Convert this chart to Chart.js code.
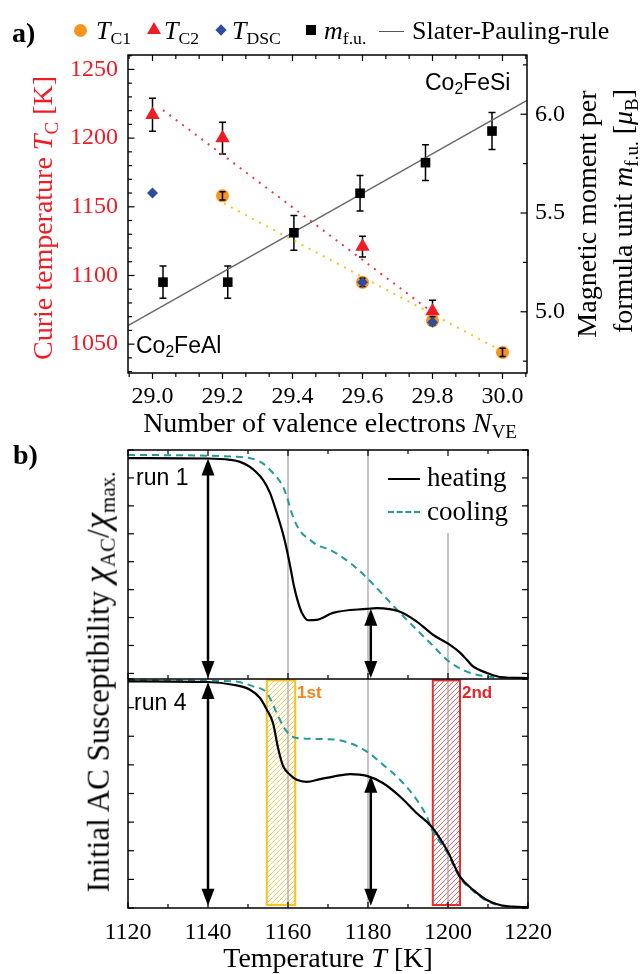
<!DOCTYPE html>
<html><head><meta charset="utf-8">
<script src="https://cdn.jsdelivr.net/npm/chart.js@4.4.1/dist/chart.umd.min.js"></script>
<style>
body{margin:0;background:#fff;}
#wrap{position:relative;width:640px;height:974px;overflow:hidden;font-family:"Liberation Serif","Times New Roman",serif;color:#000;background:#fff;}
canvas{position:absolute;left:0;}
.t{position:absolute;white-space:nowrap;line-height:1;}
.rot{transform:translate(-50%,-50%) rotate(-90deg);}
.cen{transform:translate(-50%,-50%);}
.lc{transform:translate(0,-50%);}
sub{font-size:0.68em;vertical-align:-0.3em;line-height:0;}
.sans{font-family:"Liberation Sans",Arial,sans-serif;}
.mk{position:absolute;}
</style></head><body>
<div id="wrap">
<canvas id="ca" width="640" height="440" style="top:0"></canvas>
<canvas id="cb" width="640" height="534" style="top:440px"></canvas>

<!-- panel a legend -->
<div class="t lc" style="left:12px;top:33px;font-size:28px;font-weight:bold;">a)</div>
<div class="mk" style="left:74px;top:24px;width:13px;height:13px;border-radius:50%;background:#f7941d;"></div>
<div class="t lc" style="left:96px;top:31px;font-size:26px;"><i>T</i><sub>C1</sub></div>
<div class="mk" style="left:147px;top:22px;width:0;height:0;border-left:7px solid transparent;border-right:7px solid transparent;border-bottom:12px solid #ee1c25;"></div>
<div class="t lc" style="left:164px;top:31px;font-size:26px;"><i>T</i><sub>C2</sub></div>
<div class="mk" style="left:217px;top:26px;width:8px;height:8px;background:#2f4d9e;transform:rotate(45deg);"></div>
<div class="t lc" style="left:232px;top:31px;font-size:26px;"><i>T</i><sub>DSC</sub></div>
<div class="mk" style="left:306px;top:25px;width:10px;height:10px;background:#000;"></div>
<div class="t lc" style="left:324px;top:31px;font-size:26px;"><i>m</i><sub>f.u.</sub></div>
<div class="mk" style="left:379px;top:31px;width:25px;height:0;border-top:1.5px solid #555;"></div>
<div class="t lc" style="left:412px;top:31px;font-size:26px;">Slater-Pauling-rule</div>

<!-- panel a titles -->
<div class="t rot" style="left:43px;top:218px;font-size:28px;color:#ee1c25;">Curie temperature <i>T</i><sub>C</sub> [K]</div>
<div class="t rot" style="left:587px;top:214px;font-size:28px;">Magnetic moment per</div>
<div class="t rot" style="left:623px;top:211px;font-size:28px;">formula unit <i>m</i><sub>f.u.</sub> [<i>μ</i><sub>B</sub>]</div>
<div class="t cen" style="left:330px;top:423px;font-size:28px;">Number of valence electrons <i>N</i><sub>VE</sub></div>
<div class="t lc sans" style="left:425px;top:82px;font-size:23px;">Co<sub>2</sub>FeSi</div>
<div class="t lc sans" style="left:136px;top:345px;font-size:23px;">Co<sub>2</sub>FeAl</div>

<!-- panel b texts -->
<div class="t lc" style="left:13px;top:455px;font-size:28px;font-weight:bold;">b)</div>
<div class="t lc sans" style="left:136px;top:477px;font-size:23px;">run 1</div>
<div class="t lc sans" style="left:134px;top:702px;font-size:23px;">run 4</div>
<div class="mk" style="left:388px;top:478px;width:32px;height:0;border-top:2px solid #000;"></div>
<div class="t lc" style="left:427px;top:477px;font-size:27px;">heating</div>
<div class="mk" style="left:388px;top:511px;width:32px;height:0;border-top:2px dashed #26999b;"></div>
<div class="t lc" style="left:427px;top:511px;font-size:27px;">cooling</div>
<div class="t lc sans" style="left:297px;top:692px;font-size:17px;font-weight:bold;color:#f5821f;">1st</div>
<div class="t lc sans" style="left:462px;top:692px;font-size:17px;font-weight:bold;color:#e8262a;">2nd</div>
<div class="t rot" style="left:97px;top:682px;font-size:31px;">Initial AC Susceptibility <i style="font-size:1.18em">χ</i><sub>AC</sub>/<i style="font-size:1.18em">χ</i><sub>max.</sub></div>
<div class="t cen" style="left:328px;top:958px;font-size:28px;">Temperature <i>T</i> [K]</div>
</div>

<script>
// ---------- Panel a data ----------
const nveTicks = [29.0, 29.2, 29.4, 29.6, 29.8, 30.0];
const tcTicks = [1050, 1100, 1150, 1200, 1250];
const momTicks = [5.0, 5.5, 6.0];

const tc1X = [29.2, 29.6, 29.8, 30.0];
const tc1Y = [1158, 1095, 1067, 1044];
const tc1Err = [3, 3, 3, 3];

const tc2X = [29.0, 29.2, 29.6, 29.8];
const tc2Y = [1217, 1200, 1121, 1074];
const tc2Err = [12, 11.5, 7.5, 8];

const tdscX = [29.0, 29.6, 29.8];
const tdscY = [1160, 1095, 1066];

const mfuX = [29.03, 29.215, 29.404, 29.593, 29.78, 29.97];
const mfuY = [5.15, 5.15, 5.40, 5.60, 5.755, 5.915];
const mfuErr = [0.082, 0.082, 0.088, 0.09, 0.09, 0.094];

const slaterX = [28.93, 30.07];
const slaterY = [4.93, 6.07];

const fitC2X = [29.03, 29.79];
const fitC2Y = [1220.4, 1075];
const fitC1X = [29.204, 29.983];
const fitC1Y = [1152.5, 1047];

// ---------- Panel b data ----------
const tempTicks = [1120, 1140, 1160, 1180, 1200, 1220];

const run1HeatT = [1120,1140,1145.5,1148,1150.5,1153.75,1155.5,1157.2,1158.75,1159.75,1160.7,1161.5,1162.5,1163.5,1165,1167.2,1171.25,1179.7,1182.2,1188,1192.2,1196.25,1200.5,1203,1204.7,1206.25,1209.7,1213,1220];
const run1HeatV = [0.964,0.962,0.956,0.947,0.924,0.866,0.808,0.718,0.625,0.550,0.465,0.390,0.320,0.270,0.238,0.240,0.271,0.289,0.292,0.276,0.232,0.173,0.128,0.093,0.061,0.031,0.002,-0.016,-0.021];

const run1CoolT = [1120,1146.25,1153,1156.25,1158.75,1159.7,1161.25,1163,1165.5,1167.2,1170.5,1175.5,1179.7,1183.75,1188,1192.2,1196.25,1199.7,1204.7,1210.5,1220];
const run1CoolV = [0.978,0.970,0.948,0.897,0.836,0.791,0.702,0.638,0.598,0.575,0.553,0.495,0.428,0.352,0.271,0.195,0.124,0.061,0.008,-0.015,-0.021];

const run4HeatT = [1120,1139.75,1146.25,1150.5,1153,1154.7,1156.25,1157.5,1158.75,1160.5,1162.2,1164.7,1168,1171.3,1175.5,1179.7,1183.8,1188,1192.2,1195.9,1199.7,1203,1206.3,1209.7,1213,1216.3,1220];
const run4HeatV = [0.990,0.987,0.975,0.953,0.917,0.866,0.808,0.700,0.621,0.582,0.560,0.551,0.563,0.574,0.585,0.577,0.545,0.487,0.414,0.355,0.254,0.137,0.079,0.035,0.013,0.006,0.004];

const run4CoolT = [1120,1146.25,1151.25,1154.7,1157.2,1158.8,1160.5,1162.2,1170.5,1175.5,1179.7,1183.8,1188,1192.2,1194.7,1195.9,1199.7,1203,1206.3,1209.7,1213,1220];
const run4CoolV = [0.994,0.990,0.968,0.939,0.851,0.793,0.756,0.742,0.737,0.720,0.683,0.625,0.560,0.472,0.399,0.345,0.245,0.131,0.074,0.031,0.011,0.002];

const guideX = [1160, 1180, 1200];
const guideTopFrom = [1.0, 1.0, 0.629];

const arrowX = [1140, 1180.7];
const arrowRun1Top = [0.962, 0.289];
const arrowRun1Bottom = -0.02;
const arrowRun4Top = [0.987, 0.577];
const arrowRun4Bottom = 0.01;

const boxNames = ['1st', '2nd'];
const boxFrom = [1154.7, 1196.2];
const boxTo = [1161.8, 1203.0];
const boxTop = 0.994, boxBottom = 0.013;
const boxStroke = ['#f9c21d', '#ea2b2b'];
const boxHatch = ['#f6d25e', '#ef6464'];

// ---------- helpers ----------
const SERIF = '"Liberation Serif", "Times New Roman", serif';
Chart.defaults.font.family = SERIF;
const pts = (xs, ys) => xs.map((x, i) => ({x: x, y: ys[i]}));
const setTicks = arr => (s => { s.ticks = arr.map(v => ({value: v})); });

function errBars(ctx, xs, ys, errs, xs_, ys_, cap) {
  ctx.save();
  ctx.strokeStyle = '#000'; ctx.lineWidth = 1.5;
  xs.forEach((x, i) => {
    const px = xs_.getPixelForValue(x);
    const a = ys_.getPixelForValue(ys[i] + errs[i]);
    const b = ys_.getPixelForValue(ys[i] - errs[i]);
    ctx.beginPath();
    ctx.moveTo(px, a); ctx.lineTo(px, b);
    ctx.moveTo(px - cap, a); ctx.lineTo(px + cap, a);
    ctx.moveTo(px - cap, b); ctx.lineTo(px + cap, b);
    ctx.stroke();
  });
  ctx.restore();
}

function line(ctx, x1, y1, x2, y2) { ctx.beginPath(); ctx.moveTo(x1, y1); ctx.lineTo(x2, y2); ctx.stroke(); }

// ---------- Chart A ----------
const plugA = {
  id: 'plugA',
  beforeDatasetsDraw(chart) {
    const {ctx, scales} = chart;
    errBars(ctx, mfuX, mfuY, mfuErr, scales.x, scales.y2, 3.5);
    errBars(ctx, tc2X, tc2Y, tc2Err, scales.x, scales.y, 3.5);
  },
  afterDatasetDraw(chart, args) {
    if (args.index === 2) {
      const {ctx, scales} = chart;
      errBars(ctx, tc1X, tc1Y, tc1Err, scales.x, scales.y, 3);
    }
  },
  afterDraw(chart) {
    const {ctx, chartArea: a, scales} = chart;
    ctx.save();
    ctx.strokeStyle = '#000'; ctx.lineWidth = 1.5;
    ctx.strokeRect(a.left, a.top, a.right - a.left, a.bottom - a.top);
    ctx.lineWidth = 1.2;
    for (let i = -1; i <= 16; i++) {
      const v = 29 + i * 0.2 / 3;
      if (v < scales.x.min || v > scales.x.max) continue;
      const px = scales.x.getPixelForValue(v);
      const L = (i % 3 === 0) ? 6 : 4;
      line(ctx, px, a.bottom, px, a.bottom + L);
      line(ctx, px, a.top, px, a.top + L);
    }
    for (let v = 1030; v <= 1260; v += 10) {
      const py = scales.y.getPixelForValue(v);
      const L = (v % 50 === 0) ? 6.5 : 4;
      line(ctx, a.left, py, a.left + L, py);
    }
    for (let k = 0; k <= 6; k++) {
      const v = 4.75 + k * 0.25;
      const py = scales.y2.getPixelForValue(v);
      const L = (k % 2 === 1) ? 6.5 : 4;
      line(ctx, a.right, py, a.right - L, py);
    }
    ctx.restore();
  }
};

new Chart(document.getElementById('ca'), {
  type: 'scatter',
  data: { datasets: [
    {data: pts(tdscX, tdscY), yAxisID: 'y', pointStyle: 'rectRot', pointRadius: 5.5, backgroundColor: '#2f4d9e', borderColor: '#2f4d9e', borderWidth: 0},
    {data: pts(tc2X, tc2Y), yAxisID: 'y', pointStyle: 'triangle', pointRadius: 8.3, backgroundColor: '#ee1c25', borderColor: '#ee1c25', borderWidth: 0},
    {data: pts(tc1X, tc1Y), yAxisID: 'y', pointStyle: 'circle', pointRadius: 6.5, backgroundColor: '#f7941d', borderColor: '#f7941d', borderWidth: 0},
    {data: pts(mfuX, mfuY), yAxisID: 'y2', pointStyle: 'rect', pointRadius: 6.8, backgroundColor: '#000', borderColor: '#000', borderWidth: 0},
    {data: pts(slaterX, slaterY), yAxisID: 'y2', showLine: true, pointRadius: 0, borderColor: '#6a6a6a', borderWidth: 1.3},
    {data: pts(fitC2X, fitC2Y), yAxisID: 'y', showLine: true, pointRadius: 0, borderColor: '#ee3b3b', borderWidth: 2, borderDash: [2, 6]},
    {data: pts(fitC1X, fitC1Y), yAxisID: 'y', showLine: true, pointRadius: 0, borderColor: '#f7c21b', borderWidth: 2, borderDash: [2, 6]}
  ]},
  options: {
    responsive: false, animation: false, devicePixelRatio: 1,
    layout: {padding: {top: 55, left: 0, right: 0, bottom: 0}},
    plugins: {legend: {display: false}, tooltip: {enabled: false}},
    scales: {
      x: {type: 'linear', min: 28.93, max: 30.07, afterBuildTicks: setTicks(nveTicks),
          afterFit: s => { s.height = 67; },
          ticks: {color: '#000', font: {size: 24}, padding: 9, callback: v => v.toFixed(1), maxRotation: 0},
          grid: {display: false, drawTicks: false}, border: {display: false}},
      y: {type: 'linear', position: 'left', min: 1029, max: 1260.5, afterBuildTicks: setTicks(tcTicks),
          afterFit: s => { s.width = 128; },
          ticks: {color: '#ee1c25', font: {size: 24}, padding: 10, callback: v => String(Math.round(v))},
          grid: {display: false, drawTicks: false}, border: {display: false}},
      y2: {type: 'linear', position: 'right', min: 4.69, max: 6.30, afterBuildTicks: setTicks(momTicks),
          afterFit: s => { s.width = 113; },
          ticks: {color: '#000', font: {size: 24}, padding: 8, callback: v => v.toFixed(1)},
          grid: {display: false, drawTicks: false}, border: {display: false}}
    }
  },
  plugins: [plugA]
});

// ---------- Chart B ----------
function hatch(color) {
  const c = document.createElement('canvas');
  const s = 5; c.width = s; c.height = s;
  const g = c.getContext('2d');
  g.strokeStyle = color; g.lineWidth = 1;
  g.beginPath();
  g.moveTo(0, s); g.lineTo(s, 0);
  g.moveTo(-1, 1); g.lineTo(1, -1);
  g.moveTo(s - 1, s + 1); g.lineTo(s + 1, s - 1);
  g.stroke();
  return c;
}

function arrow(ctx, x, y1, y2) {
  const H = 17, W = 6.5;
  ctx.beginPath(); ctx.moveTo(x, y1 + H - 2); ctx.lineTo(x, y2 - H + 2); ctx.stroke();
  ctx.beginPath(); ctx.moveTo(x, y1); ctx.lineTo(x - W, y1 + H); ctx.lineTo(x + W, y1 + H); ctx.closePath(); ctx.fill();
  ctx.beginPath(); ctx.moveTo(x, y2); ctx.lineTo(x - W, y2 - H); ctx.lineTo(x + W, y2 - H); ctx.closePath(); ctx.fill();
}

const plugB = {
  id: 'plugB',
  beforeDatasetsDraw(chart) {
    const {ctx, chartArea: a, scales: {x, yT, yB}} = chart;
    ctx.save();
    boxFrom.forEach((f, i) => {
      const x1 = x.getPixelForValue(f), x2 = x.getPixelForValue(boxTo[i]);
      const y1 = yB.getPixelForValue(boxTop), y2 = yB.getPixelForValue(boxBottom);
      ctx.fillStyle = ctx.createPattern(hatch(boxHatch[i]), 'repeat');
      ctx.fillRect(x1, y1, x2 - x1, y2 - y1);
    });
    ctx.strokeStyle = '#a0a0a0'; ctx.lineWidth = 1.2;
    guideX.forEach((g, i) => {
      const px = x.getPixelForValue(g);
      line(ctx, px, yT.getPixelForValue(guideTopFrom[i]), px, yT.getPixelForValue(-0.025));
      line(ctx, px, yB.getPixelForValue(1), px, yB.getPixelForValue(0));
    });
    boxFrom.forEach((f, i) => {
      const x1 = x.getPixelForValue(f), x2 = x.getPixelForValue(boxTo[i]);
      const y1 = yB.getPixelForValue(boxTop), y2 = yB.getPixelForValue(boxBottom);
      ctx.strokeStyle = boxStroke[i]; ctx.lineWidth = 2;
      ctx.strokeRect(x1, y1, x2 - x1, y2 - y1);
    });
    ctx.restore();
  },
  afterDatasetsDraw(chart) {
    const {ctx, chartArea: a, scales: {x, yT, yB}} = chart;
    ctx.save();
    ctx.strokeStyle = '#000'; ctx.fillStyle = '#000'; ctx.lineWidth = 2.5;
    arrowX.forEach((ax, i) => {
      const px = x.getPixelForValue(ax);
      arrow(ctx, px, yT.getPixelForValue(arrowRun1Top[i]), yT.getPixelForValue(arrowRun1Bottom));
      arrow(ctx, px, yB.getPixelForValue(arrowRun4Top[i]), yB.getPixelForValue(arrowRun4Bottom));
    });
    ctx.lineWidth = 1.5;
    ctx.strokeRect(a.left, a.top, a.right - a.left, a.bottom - a.top);
    const mid = yT.getPixelForValue(-0.025);
    line(ctx, a.left, mid, a.right, mid);
    ctx.lineWidth = 1.2;
    for (let v = 1120; v <= 1220; v += 10) {
      const px = x.getPixelForValue(v);
      const L = (v % 20 === 0) ? 6 : 4;
      line(ctx, px, a.top, px, a.top + L);
      line(ctx, px, mid, px, mid - L);
      line(ctx, px, a.bottom, px, a.bottom - L);
    }
    for (let k = 0; k <= 8; k++) {
      const v = k * 0.125;
      [yT, yB].forEach(sc => {
        const py = sc.getPixelForValue(v);
        line(ctx, a.left, py, a.left + 6, py);
        line(ctx, a.right, py, a.right - 6, py);
      });
    }
    ctx.restore();
  }
};

new Chart(document.getElementById('cb'), {
  type: 'line',
  data: { datasets: [
    {data: pts(run1HeatT, run1HeatV), yAxisID: 'yT', borderColor: '#000', borderWidth: 2.2, pointRadius: 0, cubicInterpolationMode: 'monotone', fill: false},
    {data: pts(run1CoolT, run1CoolV), yAxisID: 'yT', borderColor: '#26999b', borderWidth: 2, borderDash: [7, 5], pointRadius: 0, cubicInterpolationMode: 'monotone', fill: false},
    {data: pts(run4HeatT, run4HeatV), yAxisID: 'yB', borderColor: '#000', borderWidth: 2.2, pointRadius: 0, cubicInterpolationMode: 'monotone', fill: false},
    {data: pts(run4CoolT, run4CoolV), yAxisID: 'yB', borderColor: '#26999b', borderWidth: 2, borderDash: [7, 5], pointRadius: 0, cubicInterpolationMode: 'monotone', fill: false}
  ]},
  options: {
    responsive: false, animation: false, devicePixelRatio: 1,
    layout: {padding: {top: 10, left: 128, right: 112, bottom: 0}},
    plugins: {legend: {display: false}, tooltip: {enabled: false}},
    scales: {
      x: {type: 'linear', min: 1120, max: 1220, afterBuildTicks: setTicks(tempTicks),
          afterFit: s => { s.height = 66; },
          ticks: {color: '#000', font: {size: 24}, padding: 10, maxRotation: 0, callback: v => String(Math.round(v))},
          grid: {display: false, drawTicks: false}, border: {display: false}},
      yT: {type: 'linear', display: false, min: -1.05, max: 1},
      yB: {type: 'linear', display: false, min: 0, max: 2}
    }
  },
  plugins: [plugB]
});
</script>
</body></html>
